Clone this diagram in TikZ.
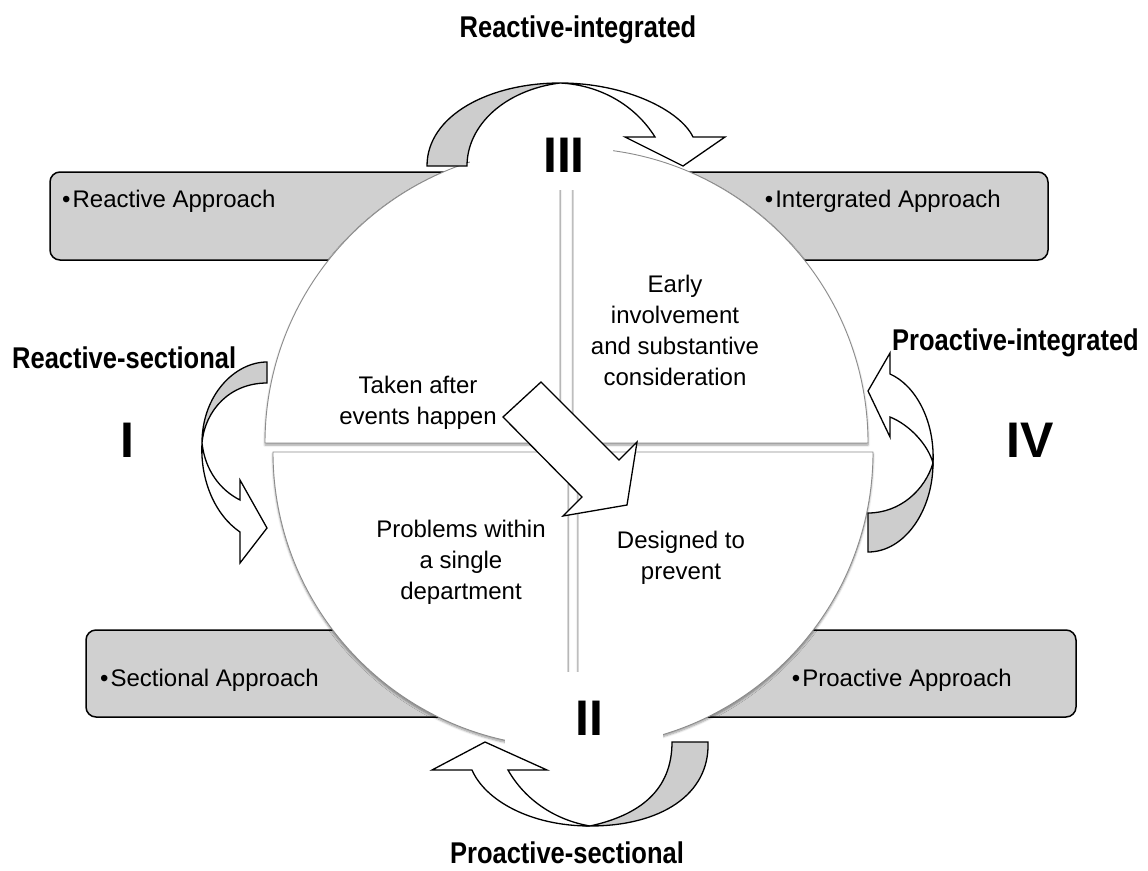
\documentclass[tikz,border=0pt]{standalone}
\usepackage{fontspec}
\setmainfont{Liberation Sans}
\newfontfamily\narrowfont[FakeStretch=0.85]{Liberation Sans}
\usetikzlibrary{shadows.blur}
\definecolor{boxgray}{RGB}{208,208,208}
\definecolor{arrgray}{RGB}{205,205,205}
\definecolor{edgegray}{RGB}{140,140,140}
\begin{document}
\begin{tikzpicture}[x=1pt,y=-1pt,
  apbox/.style={draw=black, line width=1.5pt, fill=boxgray, rounded corners=10pt, inner sep=0pt},
  boxtext/.style={font=\fontsize{24}{30}\selectfont, inner sep=0pt},
  quadtext/.style={font=\fontsize{24}{31}\selectfont, align=center, inner sep=0pt, anchor=north},
  numeral/.style={font=\fontsize{50}{50}\selectfont\bfseries, inner sep=0pt},
  whitepatch/.style={fill=white, draw=none, inner sep=0pt},
  cyclelabel/.style={font=\narrowfont\bfseries\fontsize{30}{30}\selectfont, inner sep=0pt},
  piece/.style={fill=white, draw=edgegray, line width=0.9pt,
    blur shadow={shadow xshift=0pt, shadow yshift=-2pt, shadow blur steps=6, shadow opacity=40}},
  ribbonback/.style={fill=arrgray, draw=black, line width=1.3pt, line join=miter},
  ribbonfront/.style={fill=white, draw=black, line width=1.3pt, line join=miter},
]
\useasboundingbox (0,0) rectangle (1148,870);

% outer approach boxes
\node[apbox, minimum width=450, minimum height=88] (bTL) at (275,216) {};
\node[apbox, minimum width=408, minimum height=88] (bTR) at (844,216) {};
\node[apbox, minimum width=414, minimum height=87] (bBL) at (293,673.5) {};
\node[apbox, minimum width=436, minimum height=87] (bBR) at (858,673.5) {};

\node[boxtext, anchor=base west] (tTL) at (62,207) {\textbullet\hspace{2pt}Reactive Approach};
\node[boxtext, anchor=base east] (tTR) at (1001,207) {\textbullet\hspace{2pt}Intergrated Approach};
\node[boxtext, anchor=base west] (tBL) at (100,686) {\textbullet\hspace{2pt}Sectional Approach};
\node[boxtext, anchor=base east] (tBR) at (1012,686) {\textbullet\hspace{2pt}Proactive Approach};

% circle quadrants
\path[piece] (560,443) -- (265,443) arc[start angle=180, end angle=270, radius=295] -- cycle;
\path[piece] (573,443) -- (573,148) arc[start angle=270, end angle=360, radius=295] -- cycle;
\path[piece] (578,452) -- (873,452) arc[start angle=0, end angle=90, radius=295] -- cycle;
\path[piece] (568,452) -- (568,747) arc[start angle=90, end angle=180, radius=295] -- cycle;

% quadrant texts
\node[quadtext] (qUL) at (418,376) {Taken after\\events happen};
\node[quadtext] (qUR) at (675,275) {Early\\involvement\\and substantive\\consideration};
\node[quadtext] (qLL) at (461,520) {Problems within\\a single\\department};
\node[quadtext] (qLR) at (681,531) {Designed to\\prevent};

% central arrow
\draw[ribbonfront] (503,417) -- (541,382) -- (619,460) -- (637,442) -- (627,505) -- (563,516) -- (582,497) -- cycle;

% numerals
\node[whitepatch, minimum width=143, minimum height=70] (p3) at (541.5,155) {};
\node[whitepatch, minimum width=158, minimum height=80] (p2) at (584,712) {};
\node[numeral] (n3) at (564,155) {III};
\node[numeral] (n2) at (589,718) {II};
\node[numeral] (n1) at (127,440) {I};
\node[numeral] (n4) at (1030,440) {IV};

% top ribbon arrow (Reactive-integrated)
\path[ribbonback] (427,166) .. controls (427,115) and (490,83) .. (560,83)
  .. controls (505,90) and (467,125) .. (467,166) -- cycle;
\path[ribbonfront] (560,83) .. controls (625,83) and (680,110) .. (693,137)
  -- (725,137) -- (683,166) -- (625,137) -- (655,137)
  .. controls (635,105) and (600,85) .. (560,83) -- cycle;

% left ribbon arrow (Reactive-sectional)
\path[ribbonback] (267,362) .. controls (235,362) and (202,395) .. (202,443)
  .. controls (205,410) and (230,383) .. (267,383) -- cycle;
\path[ribbonfront] (202,443) .. controls (205,470) and (220,490) .. (240,500)
  -- (240,480) -- (267,528) -- (240,563) -- (240,532)
  .. controls (215,515) and (200,480) .. (202,443) -- cycle;

% right ribbon arrow (Proactive-integrated)
\path[ribbonback] (868,552) .. controls (905,552) and (933,510) .. (933,463)
  .. controls (925,490) and (900,513) .. (868,513) -- cycle;
\path[ribbonfront] (933,463) .. controls (935,420) and (915,385) .. (890,374)
  -- (890,353) -- (868,391) -- (890,437) -- (890,417)
  .. controls (910,425) and (928,445) .. (933,463) -- cycle;

% bottom ribbon arrow (Proactive-sectional)
\path[ribbonback] (708,742) .. controls (710,795) and (660,826) .. (590,826)
  .. controls (640,815) and (672,790) .. (672,742) -- cycle;
\path[ribbonfront] (590,826) .. controls (530,826) and (485,800) .. (472,770)
  -- (432,770) -- (485,742) -- (547,770) -- (508,770)
  .. controls (525,800) and (555,820) .. (590,826) -- cycle;

% cycle labels
\node[cyclelabel, anchor=base] (lRI) at (578,37) {Reactive-integrated};
\node[cyclelabel, anchor=base] (lPS) at (567,863) {Proactive-sectional};
\node[cyclelabel, anchor=base west] (lRS) at (12,368) {Reactive-sectional};
\node[cyclelabel, anchor=base west] (lPI) at (892,350) {Proactive-integrated};
\end{tikzpicture}
\end{document}
